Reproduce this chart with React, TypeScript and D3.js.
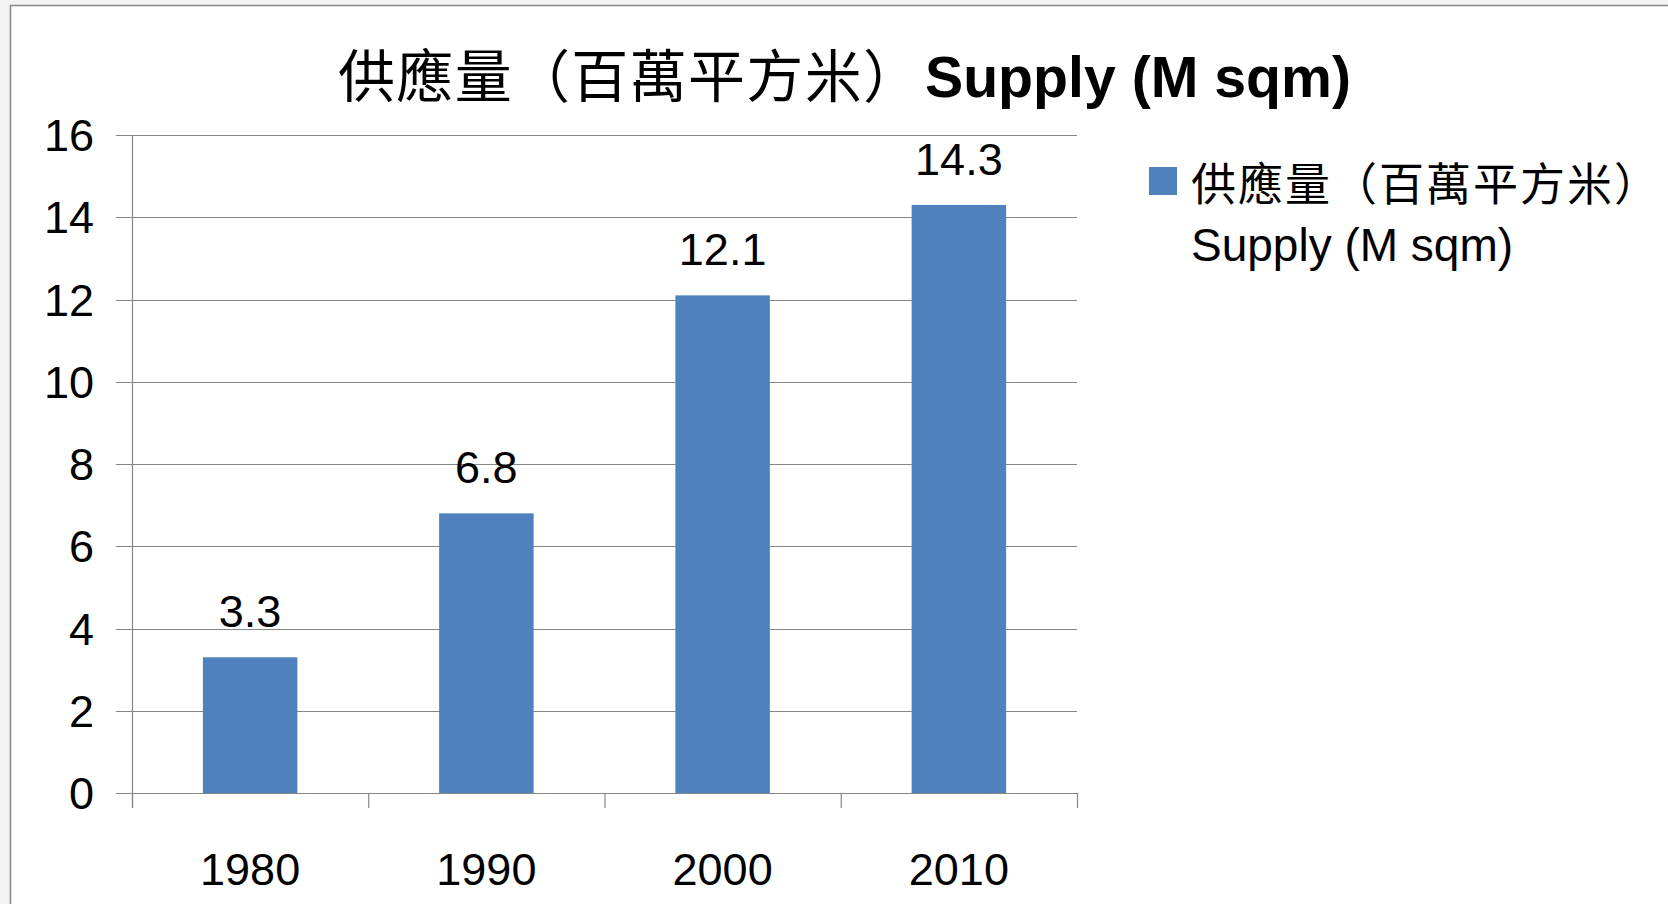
import React from "react";
import * as d3 from "d3";

const categories: string[] = ["1980", "1990", "2000", "2010"];
const supplyValues: number[] = [3.3, 6.8, 12.1, 14.3];
const yTicks: number[] = [0, 2, 4, 6, 8, 10, 12, 14, 16];
const titleCJK = "供應量（百萬平方米）";
const titleLatin = "Supply (M sqm)";
const legendLine1 = "供應量（百萬平方米）";
const legendLine2 = "Supply (M sqm)";

const W = 1668;
const H = 904;
const LATIN = "'Liberation Sans', Arial, sans-serif";
const CJK = "'Noto Sans CJK TC', 'Noto Sans CJK SC', sans-serif";
const BAR = "#4F81BD";
const GRID = "#868686";

export default function App() {
  const plotLeft = 132;
  const plotRight = 1077;
  const plotTop = 135;
  const plotBottom = 793;

  const x = d3
    .scaleBand<string>()
    .domain(categories)
    .range([plotLeft, plotRight])
    .paddingInner(0.6)
    .paddingOuter(0.3);
  const xOuter = d3.scaleBand<string>().domain(categories).range([plotLeft, plotRight]);
  const y = d3.scaleLinear().domain([0, 16]).range([plotBottom, plotTop]);

  const boundaries = [...categories.map((c) => xOuter(c) as number), plotRight];

  return (
    <svg
      width={W}
      height={H}
      style={{ position: "absolute", left: 0, top: 0, display: "block" }}
    >
      <rect x={0} y={0} width={W} height={H} fill="#f3f3f3" />
      <rect x={10.5} y={5.5} width={W + 20} height={H + 20} fill="#ffffff" stroke={GRID} strokeWidth={1.5} />

      {/* gridlines */}
      {yTicks.map((t) => (
        <line
          key={"g" + t}
          x1={plotLeft - 16}
          x2={plotRight}
          y1={Math.round(y(t)) + 0.5}
          y2={Math.round(y(t)) + 0.5}
          stroke={GRID}
          strokeWidth={1.2}
        />
      ))}
      {/* y axis */}
      <line x1={plotLeft + 0.5} x2={plotLeft + 0.5} y1={plotTop} y2={plotBottom + 15} stroke={GRID} strokeWidth={1.2} />
      {/* x ticks */}
      {boundaries.map((b, i) => (
        <line key={"xt" + i} x1={b + 0.5} x2={b + 0.5} y1={plotBottom} y2={plotBottom + 15} stroke={GRID} strokeWidth={1.2} />
      ))}

      {/* bars */}
      {categories.map((c, i) => (
        <rect
          key={"b" + c}
          x={x(c)}
          y={y(supplyValues[i])}
          width={x.bandwidth()}
          height={y(0) - y(supplyValues[i])}
          fill={BAR}
        />
      ))}

      {/* data labels */}
      {categories.map((c, i) => (
        <text
          key={"l" + c}
          x={(x(c) as number) + x.bandwidth() / 2}
          y={y(supplyValues[i]) - 30}
          textAnchor="middle"
          fontFamily={LATIN}
          fontSize={45}
          fill="#000"
        >
          {supplyValues[i].toFixed(1)}
        </text>
      ))}

      {/* y tick labels */}
      {yTicks.map((t) => (
        <text
          key={"yl" + t}
          x={94}
          y={y(t)}
          dy="0.36em"
          textAnchor="end"
          fontFamily={LATIN}
          fontSize={45}
          fill="#000"
        >
          {t}
        </text>
      ))}

      {/* x labels */}
      {categories.map((c) => (
        <text
          key={"xl" + c}
          x={(xOuter(c) as number) + xOuter.bandwidth() / 2}
          y={885}
          textAnchor="middle"
          fontFamily={LATIN}
          fontSize={45}
          fill="#000"
        >
          {c}
        </text>
      ))}

      {/* title */}
      <text x={338} y={97} fontSize={57} fill="#000" fontFamily={CJK} textLength={582} lengthAdjust="spacing">
        {titleCJK}
      </text>
      <text x={925} y={97} fontSize={57} fill="#000" fontFamily={LATIN} fontWeight="bold" textLength={426} lengthAdjust="spacingAndGlyphs">
        {titleLatin}
      </text>

      {/* legend */}
      <rect x={1149} y={167} width={28} height={28} fill={BAR} />
      <text x={1191} y={201} fontFamily={CJK} fontSize={45} fill="#000" textLength={468} lengthAdjust="spacing">
        {legendLine1}
      </text>
      <text x={1191} y={261} fontFamily={LATIN} fontSize={46} fill="#000">
        {legendLine2}
      </text>
    </svg>
  );
}
